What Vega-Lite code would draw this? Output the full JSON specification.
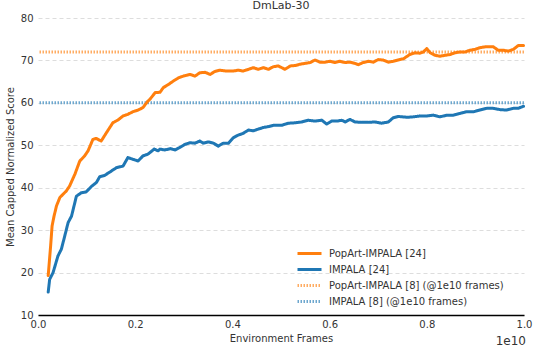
{
  "$schema": "https://vega.github.io/schema/vega-lite/v6.json",
  "width": 486,
  "height": 297,
  "autosize": {"type": "none"},
  "padding": {"left": 38, "top": 18, "right": 15, "bottom": 38},
  "background": "white",
  "title": {"text": "DmLab-30", "font": "DejaVu Sans", "fontSize": 11, "fontWeight": "normal", "color": "#333333", "offset": 2, "frame": "group"},
  "config": {
    "view": {"stroke": null},
    "font": "DejaVu Sans",
    "axis": {"labelFont": "DejaVu Sans", "titleFont": "DejaVu Sans", "labelFontSize": 10, "titleFontSize": 10, "labelColor": "#333333", "titleColor": "#333333", "titleFontWeight": "normal", "ticks": false}
  },
  "datasets": {
    "curves": [
      {"series": "PopArt-IMPALA [24]", "frames": 0.021, "score": 19.3},
      {"series": "PopArt-IMPALA [24]", "frames": 0.026, "score": 26.3},
      {"series": "PopArt-IMPALA [24]", "frames": 0.029, "score": 31.0},
      {"series": "PopArt-IMPALA [24]", "frames": 0.033, "score": 33.3},
      {"series": "PopArt-IMPALA [24]", "frames": 0.038, "score": 35.7},
      {"series": "PopArt-IMPALA [24]", "frames": 0.045, "score": 37.7},
      {"series": "PopArt-IMPALA [24]", "frames": 0.051, "score": 38.4},
      {"series": "PopArt-IMPALA [24]", "frames": 0.058, "score": 39.2},
      {"series": "PopArt-IMPALA [24]", "frames": 0.065, "score": 40.4},
      {"series": "PopArt-IMPALA [24]", "frames": 0.076, "score": 43.2},
      {"series": "PopArt-IMPALA [24]", "frames": 0.086, "score": 46.3},
      {"series": "PopArt-IMPALA [24]", "frames": 0.096, "score": 47.5},
      {"series": "PopArt-IMPALA [24]", "frames": 0.103, "score": 48.7},
      {"series": "PopArt-IMPALA [24]", "frames": 0.113, "score": 51.4},
      {"series": "PopArt-IMPALA [24]", "frames": 0.120, "score": 51.6},
      {"series": "PopArt-IMPALA [24]", "frames": 0.130, "score": 51.0},
      {"series": "PopArt-IMPALA [24]", "frames": 0.141, "score": 53.0},
      {"series": "PopArt-IMPALA [24]", "frames": 0.154, "score": 55.3},
      {"series": "PopArt-IMPALA [24]", "frames": 0.165, "score": 56.0},
      {"series": "PopArt-IMPALA [24]", "frames": 0.175, "score": 56.9},
      {"series": "PopArt-IMPALA [24]", "frames": 0.185, "score": 57.3},
      {"series": "PopArt-IMPALA [24]", "frames": 0.195, "score": 57.9},
      {"series": "PopArt-IMPALA [24]", "frames": 0.206, "score": 58.3},
      {"series": "PopArt-IMPALA [24]", "frames": 0.216, "score": 58.9},
      {"series": "PopArt-IMPALA [24]", "frames": 0.226, "score": 60.4},
      {"series": "PopArt-IMPALA [24]", "frames": 0.230, "score": 60.8},
      {"series": "PopArt-IMPALA [24]", "frames": 0.241, "score": 62.4},
      {"series": "PopArt-IMPALA [24]", "frames": 0.251, "score": 62.5},
      {"series": "PopArt-IMPALA [24]", "frames": 0.258, "score": 63.6},
      {"series": "PopArt-IMPALA [24]", "frames": 0.268, "score": 64.3},
      {"series": "PopArt-IMPALA [24]", "frames": 0.278, "score": 65.1},
      {"series": "PopArt-IMPALA [24]", "frames": 0.289, "score": 65.9},
      {"series": "PopArt-IMPALA [24]", "frames": 0.299, "score": 66.3},
      {"series": "PopArt-IMPALA [24]", "frames": 0.313, "score": 66.7},
      {"series": "PopArt-IMPALA [24]", "frames": 0.323, "score": 66.3},
      {"series": "PopArt-IMPALA [24]", "frames": 0.333, "score": 67.1},
      {"series": "PopArt-IMPALA [24]", "frames": 0.344, "score": 67.2},
      {"series": "PopArt-IMPALA [24]", "frames": 0.354, "score": 66.7},
      {"series": "PopArt-IMPALA [24]", "frames": 0.364, "score": 67.4},
      {"series": "PopArt-IMPALA [24]", "frames": 0.374, "score": 67.7},
      {"series": "PopArt-IMPALA [24]", "frames": 0.388, "score": 67.5},
      {"series": "PopArt-IMPALA [24]", "frames": 0.402, "score": 67.5},
      {"series": "PopArt-IMPALA [24]", "frames": 0.412, "score": 67.7},
      {"series": "PopArt-IMPALA [24]", "frames": 0.422, "score": 67.5},
      {"series": "PopArt-IMPALA [24]", "frames": 0.433, "score": 67.9},
      {"series": "PopArt-IMPALA [24]", "frames": 0.443, "score": 68.3},
      {"series": "PopArt-IMPALA [24]", "frames": 0.453, "score": 67.9},
      {"series": "PopArt-IMPALA [24]", "frames": 0.464, "score": 68.3},
      {"series": "PopArt-IMPALA [24]", "frames": 0.474, "score": 67.9},
      {"series": "PopArt-IMPALA [24]", "frames": 0.484, "score": 68.5},
      {"series": "PopArt-IMPALA [24]", "frames": 0.494, "score": 68.7},
      {"series": "PopArt-IMPALA [24]", "frames": 0.498, "score": 68.5},
      {"series": "PopArt-IMPALA [24]", "frames": 0.508, "score": 67.9},
      {"series": "PopArt-IMPALA [24]", "frames": 0.519, "score": 68.7},
      {"series": "PopArt-IMPALA [24]", "frames": 0.529, "score": 68.8},
      {"series": "PopArt-IMPALA [24]", "frames": 0.539, "score": 69.1},
      {"series": "PopArt-IMPALA [24]", "frames": 0.549, "score": 69.3},
      {"series": "PopArt-IMPALA [24]", "frames": 0.560, "score": 69.5},
      {"series": "PopArt-IMPALA [24]", "frames": 0.570, "score": 70.1},
      {"series": "PopArt-IMPALA [24]", "frames": 0.580, "score": 69.6},
      {"series": "PopArt-IMPALA [24]", "frames": 0.591, "score": 69.6},
      {"series": "PopArt-IMPALA [24]", "frames": 0.601, "score": 69.8},
      {"series": "PopArt-IMPALA [24]", "frames": 0.611, "score": 69.5},
      {"series": "PopArt-IMPALA [24]", "frames": 0.621, "score": 69.8},
      {"series": "PopArt-IMPALA [24]", "frames": 0.632, "score": 69.5},
      {"series": "PopArt-IMPALA [24]", "frames": 0.642, "score": 69.6},
      {"series": "PopArt-IMPALA [24]", "frames": 0.652, "score": 69.3},
      {"series": "PopArt-IMPALA [24]", "frames": 0.659, "score": 69.0},
      {"series": "PopArt-IMPALA [24]", "frames": 0.669, "score": 69.5},
      {"series": "PopArt-IMPALA [24]", "frames": 0.680, "score": 69.8},
      {"series": "PopArt-IMPALA [24]", "frames": 0.690, "score": 69.6},
      {"series": "PopArt-IMPALA [24]", "frames": 0.700, "score": 70.2},
      {"series": "PopArt-IMPALA [24]", "frames": 0.710, "score": 70.1},
      {"series": "PopArt-IMPALA [24]", "frames": 0.721, "score": 69.6},
      {"series": "PopArt-IMPALA [24]", "frames": 0.731, "score": 69.8},
      {"series": "PopArt-IMPALA [24]", "frames": 0.741, "score": 70.1},
      {"series": "PopArt-IMPALA [24]", "frames": 0.752, "score": 70.4},
      {"series": "PopArt-IMPALA [24]", "frames": 0.765, "score": 71.4},
      {"series": "PopArt-IMPALA [24]", "frames": 0.776, "score": 71.8},
      {"series": "PopArt-IMPALA [24]", "frames": 0.786, "score": 71.7},
      {"series": "PopArt-IMPALA [24]", "frames": 0.793, "score": 72.0},
      {"series": "PopArt-IMPALA [24]", "frames": 0.800, "score": 72.8},
      {"series": "PopArt-IMPALA [24]", "frames": 0.807, "score": 71.8},
      {"series": "PopArt-IMPALA [24]", "frames": 0.817, "score": 71.2},
      {"series": "PopArt-IMPALA [24]", "frames": 0.827, "score": 71.0},
      {"series": "PopArt-IMPALA [24]", "frames": 0.837, "score": 71.2},
      {"series": "PopArt-IMPALA [24]", "frames": 0.848, "score": 71.4},
      {"series": "PopArt-IMPALA [24]", "frames": 0.858, "score": 71.8},
      {"series": "PopArt-IMPALA [24]", "frames": 0.868, "score": 72.0},
      {"series": "PopArt-IMPALA [24]", "frames": 0.879, "score": 72.0},
      {"series": "PopArt-IMPALA [24]", "frames": 0.889, "score": 72.4},
      {"series": "PopArt-IMPALA [24]", "frames": 0.899, "score": 72.6},
      {"series": "PopArt-IMPALA [24]", "frames": 0.909, "score": 73.0},
      {"series": "PopArt-IMPALA [24]", "frames": 0.920, "score": 73.2},
      {"series": "PopArt-IMPALA [24]", "frames": 0.927, "score": 73.2},
      {"series": "PopArt-IMPALA [24]", "frames": 0.937, "score": 73.2},
      {"series": "PopArt-IMPALA [24]", "frames": 0.947, "score": 72.4},
      {"series": "PopArt-IMPALA [24]", "frames": 0.957, "score": 72.4},
      {"series": "PopArt-IMPALA [24]", "frames": 0.968, "score": 72.2},
      {"series": "PopArt-IMPALA [24]", "frames": 0.978, "score": 72.6},
      {"series": "PopArt-IMPALA [24]", "frames": 0.988, "score": 73.5},
      {"series": "PopArt-IMPALA [24]", "frames": 0.999, "score": 73.5},
      {"series": "IMPALA [24]", "frames": 0.021, "score": 15.4},
      {"series": "IMPALA [24]", "frames": 0.024, "score": 18.4},
      {"series": "IMPALA [24]", "frames": 0.031, "score": 20.0},
      {"series": "IMPALA [24]", "frames": 0.041, "score": 23.9},
      {"series": "IMPALA [24]", "frames": 0.048, "score": 25.5},
      {"series": "IMPALA [24]", "frames": 0.055, "score": 28.6},
      {"series": "IMPALA [24]", "frames": 0.062, "score": 31.8},
      {"series": "IMPALA [24]", "frames": 0.069, "score": 33.3},
      {"series": "IMPALA [24]", "frames": 0.079, "score": 38.0},
      {"series": "IMPALA [24]", "frames": 0.089, "score": 38.8},
      {"series": "IMPALA [24]", "frames": 0.099, "score": 39.0},
      {"series": "IMPALA [24]", "frames": 0.110, "score": 40.3},
      {"series": "IMPALA [24]", "frames": 0.120, "score": 41.2},
      {"series": "IMPALA [24]", "frames": 0.127, "score": 42.6},
      {"series": "IMPALA [24]", "frames": 0.137, "score": 42.9},
      {"series": "IMPALA [24]", "frames": 0.148, "score": 43.7},
      {"series": "IMPALA [24]", "frames": 0.161, "score": 44.7},
      {"series": "IMPALA [24]", "frames": 0.175, "score": 45.1},
      {"series": "IMPALA [24]", "frames": 0.185, "score": 47.1},
      {"series": "IMPALA [24]", "frames": 0.195, "score": 46.7},
      {"series": "IMPALA [24]", "frames": 0.206, "score": 46.3},
      {"series": "IMPALA [24]", "frames": 0.216, "score": 47.5},
      {"series": "IMPALA [24]", "frames": 0.226, "score": 47.9},
      {"series": "IMPALA [24]", "frames": 0.239, "score": 49.1},
      {"series": "IMPALA [24]", "frames": 0.247, "score": 48.7},
      {"series": "IMPALA [24]", "frames": 0.251, "score": 49.1},
      {"series": "IMPALA [24]", "frames": 0.261, "score": 48.9},
      {"series": "IMPALA [24]", "frames": 0.272, "score": 49.2},
      {"series": "IMPALA [24]", "frames": 0.282, "score": 48.9},
      {"series": "IMPALA [24]", "frames": 0.292, "score": 49.5},
      {"series": "IMPALA [24]", "frames": 0.302, "score": 50.2},
      {"series": "IMPALA [24]", "frames": 0.313, "score": 50.6},
      {"series": "IMPALA [24]", "frames": 0.323, "score": 50.5},
      {"series": "IMPALA [24]", "frames": 0.333, "score": 51.0},
      {"series": "IMPALA [24]", "frames": 0.340, "score": 50.5},
      {"series": "IMPALA [24]", "frames": 0.350, "score": 50.8},
      {"series": "IMPALA [24]", "frames": 0.361, "score": 50.5},
      {"series": "IMPALA [24]", "frames": 0.371, "score": 49.8},
      {"series": "IMPALA [24]", "frames": 0.381, "score": 50.5},
      {"series": "IMPALA [24]", "frames": 0.392, "score": 50.5},
      {"series": "IMPALA [24]", "frames": 0.402, "score": 51.8},
      {"series": "IMPALA [24]", "frames": 0.412, "score": 52.4},
      {"series": "IMPALA [24]", "frames": 0.422, "score": 52.8},
      {"series": "IMPALA [24]", "frames": 0.433, "score": 53.6},
      {"series": "IMPALA [24]", "frames": 0.443, "score": 53.4},
      {"series": "IMPALA [24]", "frames": 0.453, "score": 53.8},
      {"series": "IMPALA [24]", "frames": 0.464, "score": 54.2},
      {"series": "IMPALA [24]", "frames": 0.474, "score": 54.4},
      {"series": "IMPALA [24]", "frames": 0.484, "score": 54.7},
      {"series": "IMPALA [24]", "frames": 0.501, "score": 54.7},
      {"series": "IMPALA [24]", "frames": 0.515, "score": 55.2},
      {"series": "IMPALA [24]", "frames": 0.529, "score": 55.3},
      {"series": "IMPALA [24]", "frames": 0.543, "score": 55.5},
      {"series": "IMPALA [24]", "frames": 0.556, "score": 55.9},
      {"series": "IMPALA [24]", "frames": 0.570, "score": 55.7},
      {"series": "IMPALA [24]", "frames": 0.584, "score": 55.9},
      {"series": "IMPALA [24]", "frames": 0.594, "score": 55.0},
      {"series": "IMPALA [24]", "frames": 0.604, "score": 55.7},
      {"series": "IMPALA [24]", "frames": 0.615, "score": 55.7},
      {"series": "IMPALA [24]", "frames": 0.625, "score": 55.9},
      {"series": "IMPALA [24]", "frames": 0.632, "score": 55.5},
      {"series": "IMPALA [24]", "frames": 0.642, "score": 56.1},
      {"series": "IMPALA [24]", "frames": 0.652, "score": 55.5},
      {"series": "IMPALA [24]", "frames": 0.666, "score": 55.4},
      {"series": "IMPALA [24]", "frames": 0.680, "score": 55.4},
      {"series": "IMPALA [24]", "frames": 0.693, "score": 55.5},
      {"series": "IMPALA [24]", "frames": 0.707, "score": 55.2},
      {"series": "IMPALA [24]", "frames": 0.721, "score": 55.5},
      {"series": "IMPALA [24]", "frames": 0.731, "score": 56.5},
      {"series": "IMPALA [24]", "frames": 0.741, "score": 56.8},
      {"series": "IMPALA [24]", "frames": 0.759, "score": 56.6},
      {"series": "IMPALA [24]", "frames": 0.772, "score": 56.7},
      {"series": "IMPALA [24]", "frames": 0.786, "score": 56.9},
      {"series": "IMPALA [24]", "frames": 0.800, "score": 56.9},
      {"series": "IMPALA [24]", "frames": 0.813, "score": 57.1},
      {"series": "IMPALA [24]", "frames": 0.827, "score": 56.7},
      {"series": "IMPALA [24]", "frames": 0.841, "score": 57.1},
      {"series": "IMPALA [24]", "frames": 0.855, "score": 57.1},
      {"series": "IMPALA [24]", "frames": 0.868, "score": 57.5},
      {"series": "IMPALA [24]", "frames": 0.882, "score": 57.9},
      {"series": "IMPALA [24]", "frames": 0.896, "score": 57.9},
      {"series": "IMPALA [24]", "frames": 0.909, "score": 58.3},
      {"series": "IMPALA [24]", "frames": 0.923, "score": 58.7},
      {"series": "IMPALA [24]", "frames": 0.937, "score": 58.7},
      {"series": "IMPALA [24]", "frames": 0.951, "score": 58.4},
      {"series": "IMPALA [24]", "frames": 0.964, "score": 58.3},
      {"series": "IMPALA [24]", "frames": 0.978, "score": 58.7},
      {"series": "IMPALA [24]", "frames": 0.988, "score": 58.7},
      {"series": "IMPALA [24]", "frames": 0.999, "score": 59.2}
    ],
    "refs": [
      {"series": "PopArt-IMPALA [8] (@1e10 frames)", "score": 72},
      {"series": "IMPALA [8] (@1e10 frames)", "score": 60}
    ],
    "exponent": [
      {"label": "1e10", "frames": 1.0, "score": 10}
    ]
  },
  "layer": [
    {
      "data": {"name": "refs"},
      "mark": {"type": "rule"},
      "encoding": {
        "y": {"field": "score", "type": "quantitative"},
        "color": {"field": "series", "type": "nominal"},
        "strokeDash": {"field": "series", "type": "nominal"},
        "strokeWidth": {"field": "series", "type": "nominal"}
      }
    },
    {
      "data": {"name": "curves"},
      "mark": {"type": "line", "strokeCap": "round", "strokeJoin": "round"},
      "encoding": {
        "x": {
          "field": "frames", "type": "quantitative",
          "scale": {"domain": [0, 1], "nice": false, "zero": false},
          "axis": {"title": "Environment Frames", "values": [0, 0.2, 0.4, 0.6, 0.8, 1.0], "format": ".1f", "grid": false, "domain": true, "domainColor": "#000000", "domainWidth": 1.5, "labelPadding": 4, "labelFlush": false, "titlePadding": 4}
        },
        "y": {
          "field": "score", "type": "quantitative",
          "scale": {"domain": [10, 80], "nice": false, "zero": false},
          "axis": {"title": "Mean Capped Normalized Score", "values": [10, 20, 30, 40, 50, 60, 70, 80], "domain": false, "grid": true, "gridColor": "#dddddd", "gridDash": [4, 3], "gridWidth": 1, "labelPadding": 5, "titlePadding": 5}
        },
        "color": {
          "field": "series", "type": "nominal",
          "scale": {
            "domain": ["PopArt-IMPALA [24]", "IMPALA [24]", "PopArt-IMPALA [8] (@1e10 frames)", "IMPALA [8] (@1e10 frames)"],
            "range": ["#ff7f0e", "#1f77b4", "#ffac62", "#6da7ce"]
          },
          "legend": {"title": null, "orient": "none", "legendX": 258, "legendY": 228, "symbolType": "stroke", "symbolSize": 576, "symbolOpacity": 1, "labelFontSize": 10, "labelColor": "#333333", "labelFont": "DejaVu Sans", "labelOffset": 6, "labelLimit": 400, "clipHeight": 15, "rowPadding": 1}
        },
        "strokeDash": {
          "field": "series", "type": "nominal",
          "scale": {
            "domain": ["PopArt-IMPALA [24]", "IMPALA [24]", "PopArt-IMPALA [8] (@1e10 frames)", "IMPALA [8] (@1e10 frames)"],
            "range": [[1, 0], [1, 0], [1.5, 1.5], [1.5, 1.5]]
          },
          "legend": {"title": null}
        },
        "strokeWidth": {
          "field": "series", "type": "nominal",
          "scale": {
            "domain": ["PopArt-IMPALA [24]", "IMPALA [24]", "PopArt-IMPALA [8] (@1e10 frames)", "IMPALA [8] (@1e10 frames)"],
            "range": [3, 3, 2, 2]
          },
          "legend": {"title": null}
        }
      }
    },
    {
      "data": {"name": "exponent"},
      "mark": {"type": "text", "align": "right", "baseline": "alphabetic", "dy": 30, "dx": 2, "fontSize": 12, "font": "DejaVu Sans", "color": "#333333"},
      "encoding": {
        "x": {"field": "frames", "type": "quantitative"},
        "y": {"field": "score", "type": "quantitative"},
        "text": {"field": "label", "type": "nominal"}
      }
    }
  ]
}
